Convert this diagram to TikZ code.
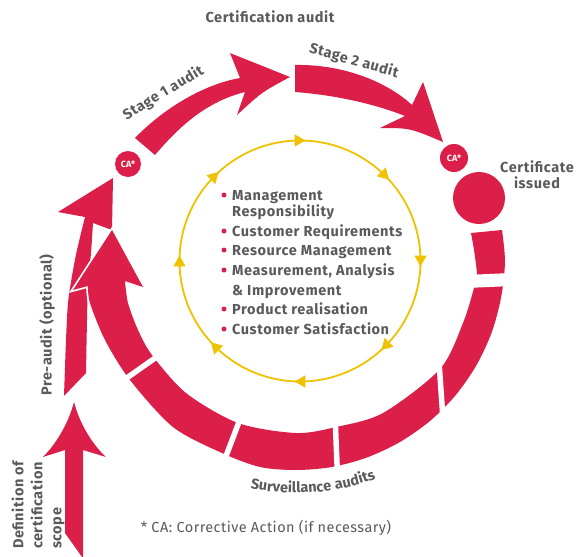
\documentclass[tikz,border=0pt]{standalone}
\usepackage{fontspec}
\setmainfont{Fira Sans}
\newfontfamily\lblfont{Fira Sans}[LetterSpace=4.0]
\newfontfamily\footfont{Fira Sans}[LetterSpace=3.0]
\usetikzlibrary{decorations.markings,decorations.text,arrows.meta}
\definecolor{cred}{HTML}{DB1F48}
\definecolor{cyel}{HTML}{EEC200}
\definecolor{cgry}{HTML}{5A5A5C}
\begin{document}
\begin{tikzpicture}[x=1pt,y=-1pt,
  lbl/.style={text=cgry,font=\lblfont\fontsize{14.5}{16}\selectfont\bfseries,inner sep=0pt},
  listtxt/.style={anchor=base west,text=cgry,font=\lblfont\fontsize{14.5}{16}\selectfont\bfseries,inner sep=0pt},
  bul/.style={circle,fill=cred,minimum size=5pt,inner sep=0pt},
  caNode/.style={circle,fill=cred,minimum size=26pt,inner sep=0pt,text=white,font=\fontsize{9}{9}\selectfont\bfseries},
  gapline/.style={draw=white,line width=5.5pt},
  redshape/.style={fill=cred}
]
\useasboundingbox (0,0) rectangle (587,557);

% inner yellow cycle
\draw[cyel, line width=1.8pt, postaction={decorate},
  decoration={markings, mark=between positions 0 and 0.9 step 0.125 with {\arrow[cyel,xshift=5.5pt]{Triangle[length=11pt,width=12pt]}}}]
  (300,261) circle (120.5);

% definition of scope arrow
\fill[redshape] (65,450) -- (43,457) .. controls (55,445) and (68,425) .. (74,402)
  .. controls (80,425) and (93,445) .. (106,457) -- (83,450) -- (83,557) -- (82,557) -- (65,533) -- cycle;

% pre-audit arrow
\fill[redshape] (64,396) -- (86,373)
  -- plot[smooth] coordinates {(86,373) (87,320) (88,285) (91,253) (93,223)}
  -- (112,230) -- (113,178) -- (58,212) -- (85,217)
  -- plot[smooth] coordinates {(85,217) (77,250) (72,276) (68,303) (66,340) (64,396)} -- cycle;

% surveillance band with head
\fill[redshape, preaction={draw=white,line width=3.5pt}] (471,233)
  -- plot[smooth] coordinates {(502,230) (505,262) (501,298) (491.5,333) (476,366) (455,396) (430,421) (400,442) (367,457.5) (332,467) (296,470) (260,467) (222,453) (173,427) (130,380) (105,340) (90,303) (88,286)}
  -- (73,290) -- (112,230) -- (143,287) -- (125,281)
  -- plot[smooth] coordinates {(125,281) (128,303) (138,330) (152,355) (186,393) (238,423) (296,433) (336,427) (383,413) (440,369) (463,323) (474,288) (477,275) (474,250) (471,233)}
  -- cycle;
% gaps
\draw[gapline, line width=13pt] (466,281.5) -- (512,279.5);
\draw[gapline] (439.1,363) -- (442.9,417.5);
\draw[gapline] (335.2,420) -- (337.3,471);
\draw[gapline] (240.5,418) -- (225.3,458);
\draw[gapline] (159.4,355) -- (124.6,379.5);

% stage 1 arrow
\fill[redshape] (135,138) .. controls (160,112) and (200,85) .. (240,78) -- (230,53) -- (290,77)
  .. controls (262,92) .. (237,115) -- (245,92) .. controls (205,102) and (178,128) .. (155,155) -- cycle;

% stage 2 arrow
\fill[redshape] (295,65) .. controls (340,64) and (385,80) .. (412,105) -- (423,82) -- (443,142)
  .. controls (410,128) .. (380,128) -- (405,116) .. controls (375,104) and (335,95) .. (295,92) -- cycle;

% circles
\node[caNode] (ca1) at (128,164) {CA*};
\node[caNode, minimum size=28pt] (ca2) at (454,158) {CA*};
\node[circle, fill=cred, minimum size=52pt, inner sep=0pt] (certc) at (479,198) {};

% labels
\node[lbl] (title) at (270,17) {Certification audit};
\node[lbl, rotate=31] (s1) at (163.5,93) {Stage 1 audit};
\node[lbl, rotate=-16] (s2) at (354,61) {Stage 2 audit};
\node[lbl, align=center] (cert) at (537,175) {Certificate\\issued};
\node[lbl, rotate=90] (pre) at (47,325) {Pre-audit (optional)};
\node[lbl, rotate=90, align=left, font=\lblfont\fontsize{14.5}{19}\selectfont\bfseries] (def) at (38,505) {Definition of\\certification\\scope};
\node[text=cgry, font=\footfont\fontsize{14.5}{16}\selectfont, inner sep=0pt] (foot) at (266,528) {* CA: Corrective Action (if necessary)};

\path[decorate, decoration={text along path, text align=center,
  text={|\lblfont\fontsize{14.5}{16}\selectfont\bfseries\color{cgry}|Surveillance audits}}]
  (296,262) ++(115.6:231) arc[start angle=115.6, end angle=55.6, radius=231];

% list
\node[bul] (b1) at (224,195) {};
\node[listtxt] (l1) at (232,200) {Management};
\node[listtxt] (l1b) at (232,216) {Responsibility};
\node[bul] (b2) at (224,231) {};
\node[listtxt] (l2) at (232,236) {Customer Requirements};
\node[bul] (b3) at (224,250) {};
\node[listtxt] (l3) at (232,255) {Resource Management};
\node[bul] (b4) at (224,270) {};
\node[listtxt] (l4) at (232,275) {Measurement, Analysis};
\node[listtxt] (l4b) at (232,295) {\& Improvement};
\node[bul] (b5) at (224,309) {};
\node[listtxt] (l5) at (232,314) {Product realisation};
\node[bul] (b6) at (224,329) {};
\node[listtxt] (l6) at (232,334) {Customer Satisfaction};
\end{tikzpicture}
\end{document}
